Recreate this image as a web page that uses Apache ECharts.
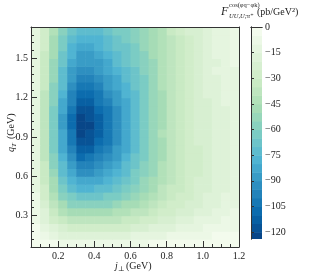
<!DOCTYPE html>
<html><head><meta charset="utf-8">
<script src="https://cdn.jsdelivr.net/npm/echarts@6/dist/echarts.min.js"></script>
<style>html,body{margin:0;padding:0;background:#fff}#c{width:316px;height:277px}</style>
</head><body><div id="c"></div>
<script>
// ---- data ----
const xCenters = [0.075,0.125,0.175,0.225,0.275,0.325,0.375,0.425,0.475,0.525,0.575,0.625,0.675,0.725,0.775,0.825,0.875,0.925,0.975,1.025,1.075,1.125,1.175];
const yCenters = [0.09,0.15,0.21,0.27,0.33,0.39,0.45,0.51,0.57,0.63,0.69,0.75,0.81,0.87,0.93,0.99,1.05,1.11,1.17,1.23,1.29,1.35,1.41,1.47,1.53,1.59,1.65,1.71];
// one row per yCenter (bottom to top), one value per xCenter
const zRows = [
[-1,-3,-5,-7,-8,-8,-8,-8,-8,-7,-7,-6,-6,-5,-5,-4,-4,-3,-3,-3,-2,-2,-2],
[-3,-8,-12,-16,-18,-19,-19,-19,-18,-17,-16,-15,-14,-13,-11,-10,-9,-8,-7,-6,-5,-5,-4],
[-5,-12,-20,-25,-29,-30,-30,-29,-29,-27,-26,-24,-22,-20,-18,-16,-14,-13,-11,-10,-8,-7,-6],
[-6,-16,-26,-34,-38,-40,-40,-39,-38,-36,-34,-32,-30,-27,-24,-21,-19,-17,-15,-13,-11,-10,-8],
[-7,-20,-32,-42,-48,-50,-50,-49,-47,-45,-43,-40,-36,-33,-29,-26,-23,-21,-18,-16,-14,-12,-10],
[-9,-23,-38,-49,-57,-60,-60,-58,-56,-53,-50,-46,-43,-38,-34,-30,-26,-24,-21,-18,-16,-13,-11],
[-10,-26,-43,-56,-65,-69,-69,-67,-64,-61,-57,-52,-47,-42,-38,-33,-29,-26,-23,-20,-17,-15,-12],
[-11,-29,-47,-61,-72,-77,-77,-74,-71,-66,-62,-57,-51,-46,-40,-35,-31,-27,-24,-21,-18,-16,-13],
[-12,-31,-50,-66,-78,-85,-85,-81,-77,-72,-67,-61,-55,-49,-43,-37,-33,-29,-25,-22,-19,-16,-14],
[-12,-33,-54,-71,-84,-92,-92,-88,-83,-77,-71,-64,-57,-51,-44,-38,-34,-29,-26,-22,-20,-17,-14],
[-13,-35,-56,-75,-90,-99,-98,-94,-88,-81,-75,-68,-60,-52,-45,-39,-34,-30,-26,-22,-20,-17,-14],
[-14,-36,-59,-78,-95,-106,-105,-100,-93,-86,-78,-70,-62,-54,-46,-40,-35,-30,-26,-23,-20,-17,-14],
[-14,-38,-61,-81,-99,-112,-111,-105,-97,-89,-81,-72,-63,-54,-46,-39,-34,-30,-26,-22,-20,-17,-14],
[-14,-38,-62,-83,-103,-117,-116,-109,-101,-92,-83,-73,-63,-54,-46,-39,-34,-29,-25,-22,-19,-16,-14],
[-15,-39,-63,-85,-105,-121,-120,-113,-103,-93,-83,-74,-63,-53,-45,-38,-33,-28,-24,-21,-18,-16,-13],
[-15,-39,-64,-86,-107,-124,-122,-114,-105,-95,-85,-75,-64,-54,-46,-38,-33,-28,-25,-21,-18,-16,-14],
[-15,-39,-64,-86,-106,-121,-120,-113,-104,-94,-85,-75,-65,-55,-47,-39,-34,-29,-25,-21,-18,-16,-13],
[-15,-39,-62,-84,-103,-117,-116,-110,-101,-92,-83,-75,-65,-55,-47,-39,-34,-29,-25,-21,-18,-16,-13],
[-15,-38,-60,-81,-99,-112,-111,-105,-97,-89,-81,-73,-64,-55,-46,-39,-34,-29,-25,-21,-18,-15,-13],
[-15,-36,-59,-78,-96,-107,-106,-101,-93,-86,-79,-71,-62,-54,-46,-39,-34,-29,-25,-20,-17,-15,-12],
[-15,-35,-56,-75,-92,-102,-101,-97,-90,-83,-76,-69,-61,-53,-45,-38,-33,-29,-24,-20,-17,-14,-12],
[-15,-34,-55,-73,-89,-98,-98,-93,-87,-81,-75,-68,-61,-53,-45,-38,-33,-28,-24,-19,-16,-14,-11],
[-14,-34,-53,-71,-86,-94,-94,-90,-84,-79,-73,-66,-59,-52,-45,-38,-33,-29,-24,-19,-15,-13,-11],
[-14,-32,-52,-68,-83,-90,-90,-86,-81,-75,-70,-64,-58,-52,-44,-37,-33,-28,-24,-19,-16,-12,-10],
[-15,-31,-50,-66,-80,-86,-86,-83,-78,-73,-68,-63,-57,-50,-43,-37,-33,-27,-23,-19,-15,-13,-10],
[-14,-30,-48,-64,-76,-82,-82,-79,-75,-70,-66,-61,-55,-50,-43,-36,-32,-27,-22,-18,-14,-12,-10],
[-14,-29,-47,-61,-73,-78,-78,-76,-71,-68,-64,-60,-54,-49,-42,-36,-31,-26,-22,-17,-14,-12,-10],
[-13,-28,-44,-59,-70,-74,-74,-72,-68,-65,-62,-57,-53,-47,-41,-34,-30,-25,-21,-17,-13,-11,-9]
];
const levels = [-125,-120,-115,-110,-105,-100,-95,-90,-85,-80,-75,-70,-65,-60,-55,-50,-45,-40,-35,-30,-25,-20,-15,-10,-5,0];
const xTickLabels = [0.2,0.4,0.6,0.8,1.0,1.2];
const xMinorTicks = [0.05,0.1,0.15,0.25,0.3,0.35,0.45,0.5,0.55,0.65,0.7,0.75,0.85,0.9,0.95,1.05,1.1,1.15];
const yTickLabels = [0.3,0.6,0.9,1.2,1.5];
const yMinorTicks = [0.06,0.12,0.18,0.24,0.36,0.42,0.48,0.54,0.66,0.72,0.78,0.84,0.96,1.02,1.08,1.14,1.26,1.32,1.38,1.44,1.56,1.62,1.68,1.74];
const cbarTickLabels = [0,-15,-30,-45,-60,-75,-90,-105,-120];

// ---- styling helpers ----
const GNBU = ['#f7fcf0','#e0f3db','#ccebc5','#a8ddb5','#7bccc4','#4eb3d3','#2b8cbe','#0868ac','#084081'];
function hex(c){return [parseInt(c.substr(1,2),16),parseInt(c.substr(3,2),16),parseInt(c.substr(5,2),16)];}
function cmap(t){ // t in [0,1], 0 -> light
  t=Math.max(0,Math.min(1,t));
  const s=t*(GNBU.length-1), i=Math.min(GNBU.length-2,Math.floor(s)), f=s-i;
  const a=hex(GNBU[i]), b=hex(GNBU[i+1]);
  return 'rgb('+a.map((v,k)=>Math.round(v+(b[k]-v)*f)).join(',')+')';
}
const vMin = levels[0], vMax = levels[levels.length-1];
const bands = [];
for (let k=0;k<levels.length-1;k++) bands.push([levels[k],levels[k+1]]);
const bandColors = bands.map(b=>cmap(1-(((b[0]+b[1])/2)-vMin)/(vMax-vMin)));
function colorOf(v){
  let k=bands.length-1;
  for (let i=0;i<bands.length;i++){ if (v < bands[i][1]) { k=i; break; } }
  return bandColors[k];
}

const cells = [];
zRows.forEach((row,j)=>row.forEach((v,i)=>cells.push([xCenters[i],yCenters[j],v])));
const hx=(xCenters[1]-xCenters[0])/2, hy=(yCenters[1]-yCenters[0])/2;

const FONT='"Liberation Serif","DejaVu Serif",serif';
const TXT='#222', LINE='#333';
const lineOnly = {axisLine:{show:true,lineStyle:{color:LINE,width:1}},axisTick:{show:false},axisLabel:{show:false},splitLine:{show:false}};

const chart = echarts.init(document.getElementById('c'),null,{renderer:'canvas'});
chart.setOption({
  animation:false,
  backgroundColor:'#fff',
  grid:[
    {left:31,top:27,width:208,height:220},
    {left:251,top:27,width:11,height:212}
  ],
  xAxis:[
    {type:'value',gridIndex:0,min:0.05,max:1.2,position:'bottom',z:5,
     axisLine:{show:true,onZero:false,lineStyle:{color:LINE,width:1}},
     axisTick:{show:true,inside:true,length:6,customValues:xTickLabels,lineStyle:{color:LINE}},
     axisLabel:{show:true,customValues:xTickLabels,margin:4,fontFamily:FONT,fontSize:10,color:TXT,formatter:v=>v.toFixed(1)},
     splitLine:{show:false}},
    {type:'value',gridIndex:0,min:0.05,max:1.2,position:'bottom',z:5,
     axisLine:{show:false},
     axisTick:{show:true,inside:true,length:3,customValues:xMinorTicks,lineStyle:{color:LINE}},
     axisLabel:{show:false},splitLine:{show:false}},
    Object.assign({type:'value',gridIndex:0,min:0.05,max:1.2,position:'top',z:5},lineOnly),
    Object.assign({type:'value',gridIndex:1,min:0,max:1,position:'bottom',z:5},lineOnly),
    Object.assign({type:'value',gridIndex:1,min:0,max:1,position:'top',z:5},lineOnly)
  ],
  yAxis:[
    {type:'value',gridIndex:0,min:0.06,max:1.74,position:'left',z:5,
     axisLine:{show:true,onZero:false,lineStyle:{color:LINE,width:1}},
     axisTick:{show:true,inside:true,length:6,customValues:yTickLabels,lineStyle:{color:LINE}},
     axisLabel:{show:true,customValues:yTickLabels,margin:3,fontFamily:FONT,fontSize:10,color:TXT,formatter:v=>v.toFixed(1)},
     splitLine:{show:false}},
    {type:'value',gridIndex:0,min:0.06,max:1.74,position:'left',z:5,
     axisLine:{show:false},
     axisTick:{show:true,inside:true,length:3,customValues:yMinorTicks,lineStyle:{color:LINE}},
     axisLabel:{show:false},splitLine:{show:false}},
    Object.assign({type:'value',gridIndex:0,min:0.06,max:1.74,position:'right',z:5},lineOnly),
    {type:'value',gridIndex:1,min:-124,max:0,position:'right',z:5,
     axisLine:{show:true,lineStyle:{color:LINE,width:1}},
     axisTick:{show:true,inside:false,length:3,customValues:cbarTickLabels,lineStyle:{color:LINE}},
     axisLabel:{show:true,customValues:cbarTickLabels,margin:3,fontFamily:FONT,fontSize:10,color:TXT,
       formatter:v=>v<0?'\u2212'+Math.abs(v):String(v)},
     splitLine:{show:false}},
    Object.assign({type:'value',gridIndex:1,min:-124,max:0,position:'left',z:5},lineOnly)
  ],
  series:[
    {type:'custom',xAxisIndex:0,yAxisIndex:0,clip:true,data:cells,
     renderItem:function(params,api){
       const x=api.value(0), y=api.value(1), v=api.value(2);
       const p0=api.coord([x-hx,y+hy]), p1=api.coord([x+hx,y-hy]);
       return {type:'rect',shape:{x:p0[0],y:p0[1],width:p1[0]-p0[0]+0.6,height:p1[1]-p0[1]+0.6},
               style:{fill:colorOf(v)}};
     }},
    {type:'custom',xAxisIndex:3,yAxisIndex:3,clip:true,data:bands.map((b,k)=>[b[0],b[1],k]),
     renderItem:function(params,api){
       const lo=api.value(0), hi=api.value(1), k=api.value(2);
       const p0=api.coord([0,hi]), p1=api.coord([1,lo]);
       return {type:'rect',shape:{x:p0[0],y:p0[1],width:p1[0]-p0[0],height:p1[1]-p0[1]+0.5},
               style:{fill:bandColors[k]}};
     }}
  ],
  graphic:[
    {type:'text',x:221,y:12,style:{text:'F',font:'italic 12px '+FONT,fill:TXT,verticalAlign:'middle'}},
    {type:'text',x:229,y:5,style:{text:'cos(\u03c6q\u2212\u03c6k)',font:'6.5px '+FONT,fill:TXT,verticalAlign:'middle'}},
    {type:'text',x:229,y:16,style:{text:'UU,U;\u03c0\u207a',font:'italic 6.5px '+FONT,fill:TXT,verticalAlign:'middle'}},
    {type:'text',x:257,y:12,style:{text:'(pb/GeV\u00b2)',font:'10px '+FONT,fill:TXT,verticalAlign:'middle'}},
    {type:'group',x:0,y:0,children:[
      {type:'text',x:115,y:266,style:{text:'j',font:'italic 10px '+FONT,fill:TXT,verticalAlign:'middle'}},
      {type:'text',x:118,y:269,style:{text:'\u22a5',font:'7px '+FONT,fill:TXT,verticalAlign:'middle'}},
      {type:'text',x:126,y:266,style:{text:'(GeV)',font:'10px '+FONT,fill:TXT,verticalAlign:'middle'}}
    ]},
    {type:'group',x:11,y:131,rotation:Math.PI/2,children:[
      {type:'text',x:-21,y:0,style:{text:'q',font:'italic 10px '+FONT,fill:TXT,verticalAlign:'middle'}},
      {type:'text',x:-16,y:3,style:{text:'T',font:'italic 7px '+FONT,fill:TXT,verticalAlign:'middle'}},
      {type:'text',x:-8,y:0,style:{text:'(GeV)',font:'10px '+FONT,fill:TXT,verticalAlign:'middle'}}
    ]}
  ]
});
</script></body></html>
